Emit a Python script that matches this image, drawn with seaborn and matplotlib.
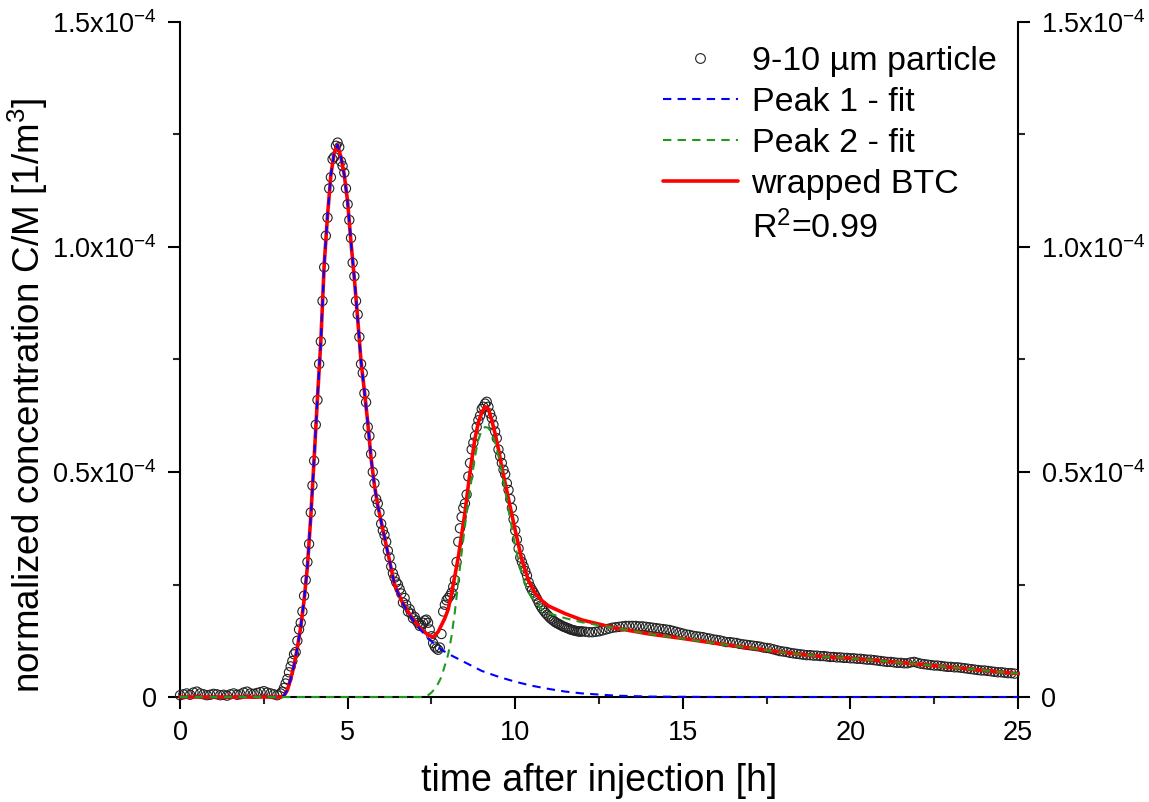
import numpy as np
import pandas as pd
import matplotlib.pyplot as plt
import seaborn as sns
from matplotlib.lines import Line2D
from matplotlib.ticker import FixedLocator, FuncFormatter, MultipleLocator

# measured breakthrough data, concentrations in units of 1e-4 1/m^3
t_base = np.linspace(0.0, 2.9, 30)
c_base = [0.004, 0.006, 0.008, 0.005, 0.010, 0.012, 0.008, 0.006, 0.004, 0.005,
          0.007, 0.006, 0.004, 0.005, 0.003, 0.006, 0.008, 0.005, 0.006, 0.010,
          0.012, 0.008, 0.007, 0.009, 0.011, 0.013, 0.010, 0.008, 0.006, 0.004]

t_peaks = np.linspace(3.0, 11.95, 180)
c_peaks = [0.008, 0.012, 0.02, 0.03, 0.04, 0.055, 0.068, 0.08, 0.095, 0.10,
           0.125, 0.15, 0.165, 0.19, 0.225, 0.26, 0.30, 0.34, 0.41, 0.47,
           0.525, 0.605, 0.66, 0.74, 0.79, 0.88, 0.955, 1.025, 1.065, 1.13,
           1.155, 1.195, 1.20, 1.225, 1.232, 1.222, 1.19, 1.18, 1.165, 1.13,
           1.095, 1.06, 1.02, 0.965, 0.935, 0.88, 0.85, 0.80, 0.74, 0.72,
           0.675, 0.655, 0.60, 0.58, 0.54, 0.50, 0.475, 0.44, 0.43, 0.41,
           0.385, 0.37, 0.36, 0.345, 0.325, 0.31, 0.29, 0.275, 0.265, 0.255,
           0.25, 0.24, 0.23, 0.21, 0.22, 0.205, 0.19, 0.195, 0.185, 0.175,
           0.178, 0.17, 0.165, 0.158, 0.16, 0.165, 0.17, 0.172, 0.165, 0.15,
           0.135, 0.12, 0.112, 0.108, 0.105, 0.11, 0.14, 0.19, 0.205, 0.215,
           0.22, 0.225, 0.232, 0.245, 0.26, 0.30, 0.345, 0.375, 0.40, 0.42,
           0.43, 0.45, 0.49, 0.52, 0.55, 0.565, 0.58, 0.60, 0.615, 0.625,
           0.64, 0.645, 0.652, 0.656, 0.645, 0.63, 0.62, 0.605, 0.59, 0.575,
           0.55, 0.535, 0.52, 0.505, 0.495, 0.475, 0.46, 0.44, 0.42, 0.395,
           0.37, 0.35, 0.33, 0.31, 0.30, 0.29, 0.28, 0.27, 0.255, 0.245,
           0.238, 0.232, 0.225, 0.218, 0.21, 0.203, 0.197, 0.192, 0.187, 0.183,
           0.179, 0.175, 0.172, 0.169, 0.166, 0.164, 0.162, 0.16, 0.158, 0.156,
           0.155, 0.153, 0.152, 0.15, 0.149, 0.148, 0.147, 0.146, 0.146, 0.145]

t_tail = np.linspace(12.0, 24.9, 130)
c_tail = [0.146, 0.145, 0.144, 0.144, 0.145, 0.146, 0.148, 0.150, 0.152, 0.154,
          0.155, 0.156, 0.157, 0.158, 0.158, 0.158, 0.158, 0.157, 0.157, 0.156,
          0.155, 0.154, 0.153, 0.152, 0.151, 0.150, 0.149, 0.147, 0.145, 0.143,
          0.141, 0.139, 0.138, 0.136, 0.135, 0.134, 0.133, 0.131, 0.130, 0.128,
          0.127, 0.126, 0.124, 0.122, 0.122, 0.121, 0.120, 0.118, 0.117, 0.116,
          0.115, 0.114, 0.113, 0.112, 0.110, 0.109, 0.108, 0.106, 0.104, 0.102,
          0.101, 0.100, 0.098, 0.097, 0.096, 0.095, 0.094, 0.093, 0.093, 0.092,
          0.092, 0.091, 0.091, 0.090, 0.089, 0.089, 0.088, 0.088, 0.087, 0.087,
          0.086, 0.086, 0.085, 0.085, 0.084, 0.083, 0.083, 0.082, 0.081, 0.080,
          0.079, 0.078, 0.078, 0.077, 0.076, 0.076, 0.075, 0.075, 0.077, 0.078,
          0.076, 0.074, 0.073, 0.072, 0.071, 0.070, 0.070, 0.069, 0.068, 0.067,
          0.067, 0.066, 0.066, 0.065, 0.064, 0.063, 0.062, 0.061, 0.060, 0.059,
          0.059, 0.058, 0.057, 0.056, 0.055, 0.055, 0.054, 0.053, 0.053, 0.052]

# fitted curves
peak1_t = [0, 3.0, 3.1, 3.2, 3.3, 3.4, 3.5, 3.6, 3.7, 3.8, 3.9, 4.0, 4.1, 4.2, 4.3,
           4.4, 4.5, 4.6, 4.7, 4.8, 4.9, 5.0, 5.1, 5.2, 5.3, 5.4, 5.5, 5.6, 5.7,
           5.8, 5.9, 6.0, 6.2, 6.4, 6.6, 6.8, 7.0, 7.2, 7.4, 7.6, 7.8, 8.0, 8.5,
           9.0, 9.5, 10.0, 10.5, 11.0, 11.5, 12.0, 13.0, 14.0, 16.0, 25.0]
peak1_c = [0, 0, 0.003, 0.015, 0.04, 0.07, 0.11, 0.155, 0.215, 0.29, 0.40, 0.53,
           0.665, 0.79, 0.96, 1.07, 1.16, 1.21, 1.227, 1.20, 1.16, 1.10, 1.01, 0.93,
           0.84, 0.745, 0.68, 0.61, 0.53, 0.47, 0.425, 0.39, 0.32, 0.25, 0.214,
           0.188, 0.166, 0.147, 0.131, 0.117, 0.105, 0.096, 0.077, 0.058, 0.045,
           0.034, 0.025, 0.018, 0.012, 0.008, 0.003, 0.001, 0.0, 0.0]

peak2_t = [0, 7.3, 7.4, 7.5, 7.6, 7.7, 7.8, 7.9, 8.0, 8.1, 8.2, 8.3, 8.4, 8.5, 8.6,
           8.7, 8.8, 8.9, 9.0, 9.1, 9.2, 9.3, 9.4, 9.5, 9.6, 9.7, 9.8, 9.9, 10.0,
           10.2, 10.4, 10.6, 10.8, 11.0, 11.5, 12.0, 13.0, 14.0, 15.0, 16.0, 17.0,
           18.0, 19.0, 20.0, 21.0, 22.0, 23.0, 24.0, 25.0]
peak2_c = [0, 0, 0.004, 0.01, 0.018, 0.03, 0.045, 0.07, 0.095, 0.135, 0.19, 0.255,
           0.32, 0.38, 0.435, 0.485, 0.535, 0.572, 0.593, 0.60, 0.598, 0.585, 0.565,
           0.535, 0.50, 0.46, 0.415, 0.375, 0.335, 0.27, 0.232, 0.21, 0.195, 0.186,
           0.175, 0.166, 0.153, 0.140, 0.130, 0.119, 0.109, 0.099, 0.091, 0.086,
           0.080, 0.073, 0.066, 0.059, 0.052]

btc_t = [0, 3.0, 3.1, 3.2, 3.3, 3.4, 3.5, 3.6, 3.7, 3.8, 3.9, 4.0, 4.1, 4.2, 4.3,
         4.4, 4.5, 4.6, 4.7, 4.8, 4.9, 5.0, 5.1, 5.2, 5.3, 5.4, 5.5, 5.6, 5.7, 5.8,
         5.9, 6.0, 6.2, 6.4, 6.6, 6.8, 7.0, 7.2, 7.4, 7.55, 7.7, 7.8, 7.9, 8.0, 8.1,
         8.2, 8.3, 8.4, 8.5, 8.6, 8.7, 8.8, 8.9, 9.0, 9.1, 9.2, 9.3, 9.4, 9.5, 9.6,
         9.7, 9.8, 9.9, 10.0, 10.2, 10.4, 10.6, 10.8, 11.0, 11.5, 12.0, 13.0, 14.0,
         15.0, 16.0, 17.0, 18.0, 19.0, 20.0, 21.0, 22.0, 23.0, 24.0, 25.0]
btc_c = [0, 0, 0.003, 0.015, 0.04, 0.07, 0.11, 0.155, 0.215, 0.29, 0.40, 0.53, 0.665,
         0.79, 0.96, 1.07, 1.16, 1.21, 1.227, 1.20, 1.16, 1.10, 1.01, 0.93, 0.84,
         0.745, 0.68, 0.61, 0.53, 0.47, 0.425, 0.39, 0.32, 0.25, 0.215, 0.19, 0.168,
         0.150, 0.138, 0.133, 0.145, 0.16, 0.175, 0.195, 0.23, 0.27, 0.31, 0.36,
         0.41, 0.47, 0.525, 0.575, 0.61, 0.632, 0.645, 0.64, 0.615, 0.585, 0.55,
         0.51, 0.475, 0.44, 0.405, 0.37, 0.304, 0.258, 0.230, 0.214, 0.202, 0.185,
         0.171, 0.153, 0.140, 0.130, 0.119, 0.109, 0.099, 0.091, 0.086, 0.080,
         0.073, 0.066, 0.059, 0.052]

SCALE = 1e-4
data = pd.DataFrame({
    "t": np.concatenate([t_base, t_peaks, t_tail]),
    "c": np.concatenate([c_base, c_peaks, c_tail]) * SCALE,
})

sns.set_style("ticks")
plt.rcParams["font.family"] = ["Liberation Sans", "DejaVu Sans"]
plt.rcParams["mathtext.fontset"] = "custom"
plt.rcParams["mathtext.rm"] = "Liberation Sans"
plt.rcParams["mathtext.it"] = "Liberation Sans"
plt.rcParams["text.color"] = "black"
plt.rcParams["axes.labelcolor"] = "black"

fig = plt.figure(figsize=(11.49, 8.02), dpi=100)
ax = fig.add_axes([0.1567, 0.1309, 0.7293, 0.8417])

blue = "#0000ff"
green = "#1f9a1f"
red = "#ff0000"

sns.scatterplot(data=data, x="t", y="c", ax=ax, marker="o", s=44,
                facecolor="none", edgecolor="#222222", linewidth=0.8,
                zorder=3, clip_on=False, legend=False)
sns.lineplot(x=btc_t, y=np.array(btc_c) * SCALE, ax=ax, color=red, lw=2.6,
             zorder=4, clip_on=False, legend=False)
sns.lineplot(x=peak1_t, y=np.array(peak1_c) * SCALE, ax=ax, color=blue, lw=1.5,
             linestyle=(0, (4, 3)), zorder=5, clip_on=False, legend=False)
sns.lineplot(x=peak2_t, y=np.array(peak2_c) * SCALE, ax=ax, color=green, lw=1.5,
             linestyle=(0, (4, 3)), zorder=6, clip_on=False, legend=False)

ax.set_xlim(0, 25)
ax.set_ylim(0, 1.5e-4)
ax.xaxis.set_major_locator(MultipleLocator(5))
ax.xaxis.set_minor_locator(MultipleLocator(2.5))
ax.yaxis.set_major_locator(FixedLocator([0, 0.5e-4, 1.0e-4, 1.5e-4]))
ax.yaxis.set_minor_locator(FixedLocator([0.25e-4, 0.75e-4, 1.25e-4]))


def sci_label(v, pos):
    if abs(v) < 1e-12:
        return "0"
    return r"$\mathregular{%.1fx10^{-4}}$" % (v / SCALE)


ax.yaxis.set_major_formatter(FuncFormatter(sci_label))
ax.tick_params(axis="both", which="major", direction="out", length=8.6, width=1.5,
               labelsize=19.5, color="black", labelcolor="black", pad=8)
ax.tick_params(axis="both", which="minor", direction="out", length=4.8, width=1.5)
ax.tick_params(axis="y", which="both", right=True, labelright=True)
ax.tick_params(axis="x", which="both", top=False)

for side in ["left", "right", "bottom"]:
    ax.spines[side].set_linewidth(1.5)
    ax.spines[side].set_color("black")
ax.spines["top"].set_visible(False)

ax.set_xlabel("time after injection [h]", fontsize=27, labelpad=12)
ax.set_ylabel(r"normalized concentration C/M [1/m$\mathregular{^3}$]", fontsize=26.5)
ax.yaxis.set_label_coords(-0.155, 0.447)

handles = [
    Line2D([], [], marker="o", ls="", mfc="none", mec="#222222", ms=7, mew=0.8),
    Line2D([], [], color=blue, lw=1.5, ls=(0, (4, 3))),
    Line2D([], [], color=green, lw=1.5, ls=(0, (4, 3))),
    Line2D([], [], color=red, lw=2.6),
    Line2D([], [], ls="", marker=""),
]
labels = ["9-10 \u00b5m particle", "Peak 1 - fit", "Peak 2 - fit", "wrapped BTC",
          r"$\mathregular{R^2}$=0.99"]
ax.legend(handles, labels, loc="upper left", bbox_to_anchor=(0.576, 0.965),
          frameon=False, fontsize=24.5, handlelength=2.2, handletextpad=0.41,
          labelspacing=0.3, borderpad=0, borderaxespad=0)

fig.savefig("out.png", dpi=100)
